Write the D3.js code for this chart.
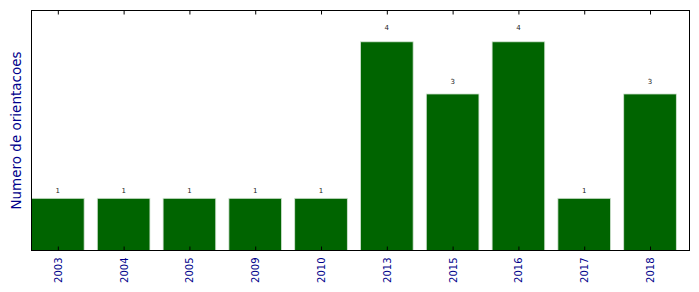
<!DOCTYPE html>
<html><head><meta charset="utf-8">
<script src="https://cdn.jsdelivr.net/npm/d3@7/dist/d3.min.js"></script>
<style>body{margin:0;background:#fff}svg{display:block}text{font-family:"DejaVu Sans",sans-serif}</style>
</head><body><svg id="c" width="699" height="292"></svg>
<script>
const years = ["2003","2004","2005","2009","2010","2013","2015","2016","2017","2018"];
const counts = [1,1,1,1,1,4,3,4,1,3];
const yLabel = "Numero de orientacoes";

const svg = d3.select("#c");
const L = 31.5, R = 689.5, T = 10.5, B = 250.5;
const x = d3.scaleLinear().domain([-0.4, years.length - 0.4]).range([L, R]);
const y = d3.scaleLinear().domain([0, d3.max(counts) * 1.15]).range([B, T]);

svg.append("g").selectAll("rect").data(counts).join("rect")
  .attr("x", (d,i) => x(i - 0.4))
  .attr("width", (d,i) => x(i + 0.4) - x(i - 0.4))
  .attr("y", d => y(d))
  .attr("height", d => y(0) - y(d))
  .attr("fill", "#006400")
  .attr("stroke", "#d4e4d4").attr("stroke-width", 0.8);

svg.append("g").selectAll("text").data(counts).join("text")
  .attr("x", (d,i) => x(i))
  .attr("y", d => y(d * 1.04) - 3.5)
  .attr("text-anchor", "middle")
  .attr("font-size", 7).attr("fill", "#222")
  .text(d => d);

// frame
svg.append("rect").attr("x", L).attr("y", T).attr("width", R - L).attr("height", B - T)
  .attr("fill", "none").attr("stroke", "#000").attr("stroke-width", 1);

const xb = d3.axisBottom(x).tickValues(d3.range(years.length)).tickFormat(i => years[i])
  .tickSizeInner(-4).tickSizeOuter(0).tickPadding(7);
const gb = svg.append("g").attr("transform", `translate(0,${B})`).call(xb);
gb.select(".domain").remove();
gb.selectAll("text").attr("transform", "rotate(-90)")
  .attr("text-anchor", "end").attr("dy", "0.35em").attr("x", -7).attr("y", 0)
  .attr("font-size", 10).attr("fill", "#00008b").style("font-family", "DejaVu Sans");

const xt = d3.axisTop(x).tickValues(d3.range(years.length)).tickFormat("")
  .tickSizeInner(-4).tickSizeOuter(0);
const gt = svg.append("g").attr("transform", `translate(0,${T})`).call(xt);
gt.select(".domain").remove();

svg.append("text").attr("transform", `translate(21,${(T + B) / 2}) rotate(-90)`)
  .attr("text-anchor", "middle").attr("font-size", 13.5).attr("fill", "#00008b")
  .text(yLabel);
</script></body></html>
